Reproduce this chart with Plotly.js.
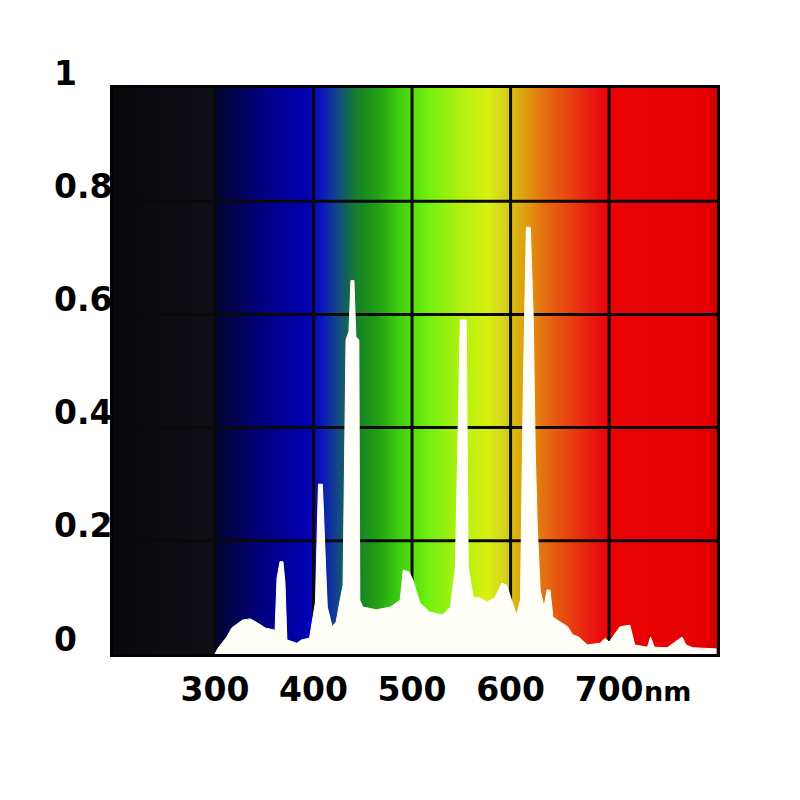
<!DOCTYPE html>
<html>
<head>
<meta charset="utf-8">
<script src="https://cdn.plot.ly/plotly-3.0.1.min.js"></script>
<style>html,body{margin:0;padding:0;background:#fff;}#chart{width:800px;height:800px;}</style>
</head>
<body>
<div id="chart"></div>
<script>
// Spectrum (wavelength in nm, relative intensity)
const specWl = [300,303,312,317,328,336,343,351,361,363,366,369,371,373,383,388,396,399,402,405,409,412,414,419,423,427,430,433,436,438,441,443,446,447,450,464,478,488,491,497,501,508,518,531,539,544,547,549,555,557,562,569,576,584,591,596,601,606,610,613,616,620,623,625,627,630,634,637,640,643,650,658,663,669,678,691,696,700,711,721,726,739,742,746,759,770,774,778,785,809];
const specVal = [0,0.01,0.03,0.046,0.06,0.062,0.055,0.046,0.042,0.134,0.163,0.163,0.127,0.025,0.019,0.025,0.028,0.06,0.092,0.30,0.30,0.166,0.083,0.048,0.057,0.095,0.122,0.555,0.57,0.66,0.66,0.56,0.555,0.095,0.083,0.078,0.083,0.095,0.148,0.145,0.13,0.09,0.074,0.069,0.083,0.154,0.42,0.59,0.59,0.154,0.10,0.099,0.092,0.099,0.125,0.122,0.095,0.069,0.095,0.48,0.754,0.754,0.594,0.36,0.23,0.113,0.083,0.113,0.113,0.065,0.057,0.048,0.034,0.03,0.016,0.019,0.028,0.021,0.048,0.051,0.016,0.012,0.03,0.012,0.011,0.025,0.03,0.016,0.011,0.009];

// Background colour spectrum stops
const bgWl = [196,250,299,301,330,346,370,386,398,407,417,425,432,440,450,464,488,515,549,576,592,607,620,633,660,688,700,800,810];
const bgColors = ['#08080c','#0c0c12','#0f0f16','#050535','#020262','#00007e','#00009a','#0000aa','#0404b4','#0a14be','#1030a0','#124a84','#12605c','#167836','#1a8a20','#22a012','#40d010','#70f010','#b0f010','#d8f010','#d4d41c','#dcb010','#e09010','#e47010','#e84010','#e81010','#e80404','#e40000','#c80000'];

// Axes
const xTickVals = [300,400,500,600,700];
const xTickText = ['300','400','500','600','700'];
const xUnit = 'nm';
const yTickVals = [0,0.2,0.4,0.6,0.8,1];
const yTickText = ['0','0.2','0.4','0.6','0.8','1'];
const xRange = [196.5, 809.5];
const yRange = [0, 1];

const zmin = bgWl[0], zmax = bgWl[bgWl.length-1];
const colorscale = bgWl.map((w,i)=>[(w-zmin)/(zmax-zmin), bgColors[i]]);

const bg = {
  type:'heatmap', x:bgWl, y:[0,1], z:[bgWl,bgWl], zmin:zmin, zmax:zmax,
  colorscale:colorscale, showscale:false, zsmooth:'best', hoverinfo:'skip'
};

const vx=[], vy=[];
xTickVals.forEach(v=>{vx.push(v,v,null); vy.push(yRange[0],yRange[1],null);});
const hx=[], hy=[];
yTickVals.slice(1,-1).forEach(v=>{hx.push(xRange[0],xRange[1],null); hy.push(v,v,null);});
const gridStyle = {color:'#0a0a0a', width:3};
const vgrid = {type:'scatter', mode:'lines', x:vx, y:vy, line:gridStyle, hoverinfo:'skip', showlegend:false};
const hgrid = {type:'scatter', mode:'lines', x:hx, y:hy, line:gridStyle, hoverinfo:'skip', showlegend:false};

const spec = {
  type:'scatter', mode:'lines', x:specWl, y:specVal, fill:'tozeroy',
  fillcolor:'#fffff8', line:{color:'#fffff8', width:1, shape:'linear'}, showlegend:false
};

const labelFont = {family:'DejaVu Sans', size:33, color:'#000', weight:'bold'};
const annotations = yTickVals.map((v,i)=>({
  xref:'paper', yref:'y', x:-0.101, y:v, xanchor:'left', yanchor:'middle',
  yshift:15, text:yTickText[i], showarrow:false, font:labelFont
}));
annotations.push({
  xref:'x', yref:'paper', x:xTickVals[xTickVals.length-1], y:-0.066, xanchor:'left', yanchor:'middle',
  xshift:33, text:xUnit, showarrow:false, font:{family:'DejaVu Sans', size:27, color:'#000', weight:'bold'}
});

const layout = {
  width:800, height:800,
  margin:{l:113, r:83, t:88, b:146},
  paper_bgcolor:'#fff', plot_bgcolor:'#000',
  showlegend:false,
  xaxis:{range:xRange, tickvals:xTickVals, ticktext:xTickText, showgrid:false, zeroline:false,
    showline:true, mirror:true, linecolor:'#000', linewidth:3, ticks:'', tickfont:labelFont,
    ticklabelstandoff:4, fixedrange:true},
  yaxis:{range:yRange, tickvals:yTickVals, showticklabels:false, showgrid:false, zeroline:false,
    showline:true, mirror:true, linecolor:'#000', linewidth:3, ticks:'', fixedrange:true},
  annotations:annotations
};

Plotly.newPlot('chart', [bg, vgrid, hgrid, spec], layout, {displayModeBar:false, staticPlot:true});
</script>
</body>
</html>
